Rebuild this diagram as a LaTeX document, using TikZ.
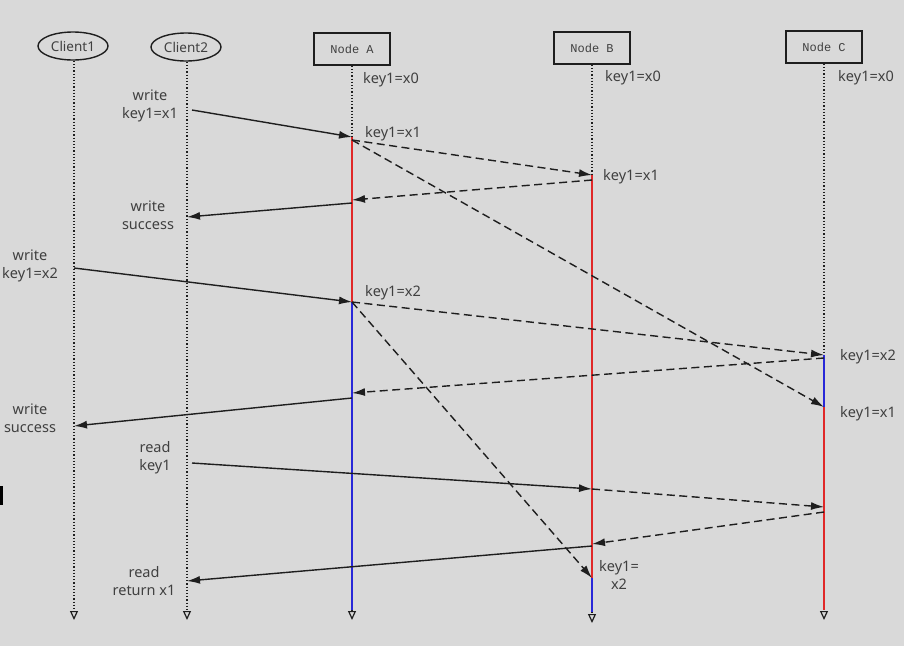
\documentclass[tikz,border=0pt]{standalone}
\usepackage{fontspec}
\setmainfont{Noto Sans}
\setmonofont{Liberation Mono}
\usetikzlibrary{shapes.geometric,arrows.meta}
\definecolor{bg}{HTML}{D9D9D9}
\definecolor{txt}{HTML}{404040}
\definecolor{ln}{HTML}{1E1E1E}
\definecolor{segred}{HTML}{E02828}
\definecolor{segblue}{HTML}{2828D8}
\tikzset{
  client/.style={draw=ln,ellipse,line width=1.4pt,minimum width=70pt,minimum height=28pt,inner sep=0pt,font=\fontsize{13.5}{15}\selectfont,text=txt},
  nodebox/.style={draw=ln,rectangle,line width=1.4pt,minimum width=76pt,minimum height=32pt,inner sep=0pt,font=\ttfamily\fontsize{12}{14}\selectfont,text=txt},
  lifeline/.style={draw=ln,dotted,line width=1.2pt,-{Triangle[open,length=9pt,width=8pt,line width=1.2pt]}},
  msg/.style={draw=ln,line width=1.4pt,-{Latex[length=13pt,width=8pt]}},
  rmsg/.style={msg,dash pattern=on 8pt off 4.5pt},
  lbl/.style={font=\fontsize{14.5}{18}\selectfont,text=txt,align=center,inner sep=0pt},
  redseg/.style={draw=segred,line width=1.8pt},
  blueseg/.style={draw=segblue,line width=1.8pt}
}
\begin{document}
\begin{tikzpicture}[x=1pt,y=-1pt]
\fill[bg] (0,0) rectangle (904,646);
\useasboundingbox (0,0) rectangle (904,646);
\fill[black] (0,486) rectangle (3,505);

% heads
\node[client] (C1) at (73,46) {Client1};
\node[client] (C2) at (186,47) {Client2};
\node[nodebox] (A) at (352,49) {Node A};
\node[nodebox] (B) at (592,48) {Node B};
\node[nodebox] (C) at (824,47) {Node C};

% lifeline ends
\coordinate (C1e) at (74,620);
\coordinate (C2e) at (187,620);
\coordinate (Ae) at (352,620);
\coordinate (Be) at (592,623);
\coordinate (Ce) at (824,620);
\draw[lifeline] (C1.south -| C1e) -- (C1e);
\draw[lifeline] (C2.south -| C2e) -- (C2e);
\draw[lifeline] (A.south) -- (Ae);
\draw[lifeline] (B.south) -- (Be);
\draw[lifeline] (C.south) -- (Ce);

% event coordinates
\coordinate (c2w1) at (192,110);
\coordinate (a1) at (352,137);
\coordinate (a1s) at (352,140);
\coordinate (b1) at (592,175);
\coordinate (b1s) at (592,180);
\coordinate (a2) at (352,200);
\coordinate (a2s) at (352,203);
\coordinate (c2r1) at (187,217);
\coordinate (c1w2) at (74,268);
\coordinate (a3) at (352,302);
\coordinate (c1) at (824,355);
\coordinate (c1s) at (824,358);
\coordinate (a4) at (352,393);
\coordinate (a4s) at (352,398);
\coordinate (c1r2) at (74,426);
\coordinate (cx1) at (824,407);
\coordinate (c2rd) at (192,463);
\coordinate (b2) at (592,489);
\coordinate (c2) at (824,507);
\coordinate (c2s) at (824,512);
\coordinate (b3) at (592,544);
\coordinate (b3s) at (592,546);
\coordinate (c2ret) at (187,581);
\coordinate (bx2) at (592,578);

% coloured segments
\draw[redseg] (a1) -- (a3);
\draw[blueseg] (a3) -- (352,610);
\draw[redseg] (b1) -- (bx2);
\draw[blueseg] (bx2) -- (592,612);
\draw[blueseg] (c1) -- (cx1);
\draw[redseg] (cx1) -- (824,610);

% messages
\draw[msg] (c2w1) -- (a1);
\draw[rmsg] (a1s) -- (b1);
\draw[rmsg] (a1s) -- (cx1);
\draw[rmsg] (b1s) -- (a2);
\draw[msg] (a2s) -- (c2r1);
\draw[msg] (c1w2) -- (a3);
\draw[rmsg] (a3) -- (c1);
\draw[rmsg] (a3) -- (bx2);
\draw[rmsg] (c1s) -- (a4);
\draw[msg] (a4s) -- (c1r2);
\draw[msg] (c2rd) -- (b2);
\draw[rmsg] (b2) -- (c2);
\draw[rmsg] (c2s) -- (b3);
\draw[msg] (b3s) -- (c2ret);

% labels
\node[lbl] (l1) at (150,106) {write\\key1=x1};
\node[lbl] (l2) at (148,215) {write\\success};
\node[lbl] (l3) at (30,266) {write\\key1=x2};
\node[lbl] (l4) at (30,418) {write\\success};
\node[lbl] (l5) at (155,458) {read\\key1};
\node[lbl] (l6) at (144,581) {read\\return x1};
\node[lbl,anchor=west] (k1) at (363,80) {key1=x0};
\node[lbl,anchor=west] (k2) at (605,78) {key1=x0};
\node[lbl,anchor=west] (k3) at (838,78) {key1=x0};
\node[lbl,anchor=west] (k4) at (365,134) {key1=x1};
\node[lbl,anchor=west] (k5) at (603,177) {key1=x1};
\node[lbl,anchor=west] (k6) at (365,293) {key1=x2};
\node[lbl,anchor=west] (k7) at (840,357) {key1=x2};
\node[lbl,anchor=west] (k8) at (840,414) {key1=x1};
\node[lbl] (k9) at (619,575) {key1=\\x2};
\end{tikzpicture}
\end{document}
